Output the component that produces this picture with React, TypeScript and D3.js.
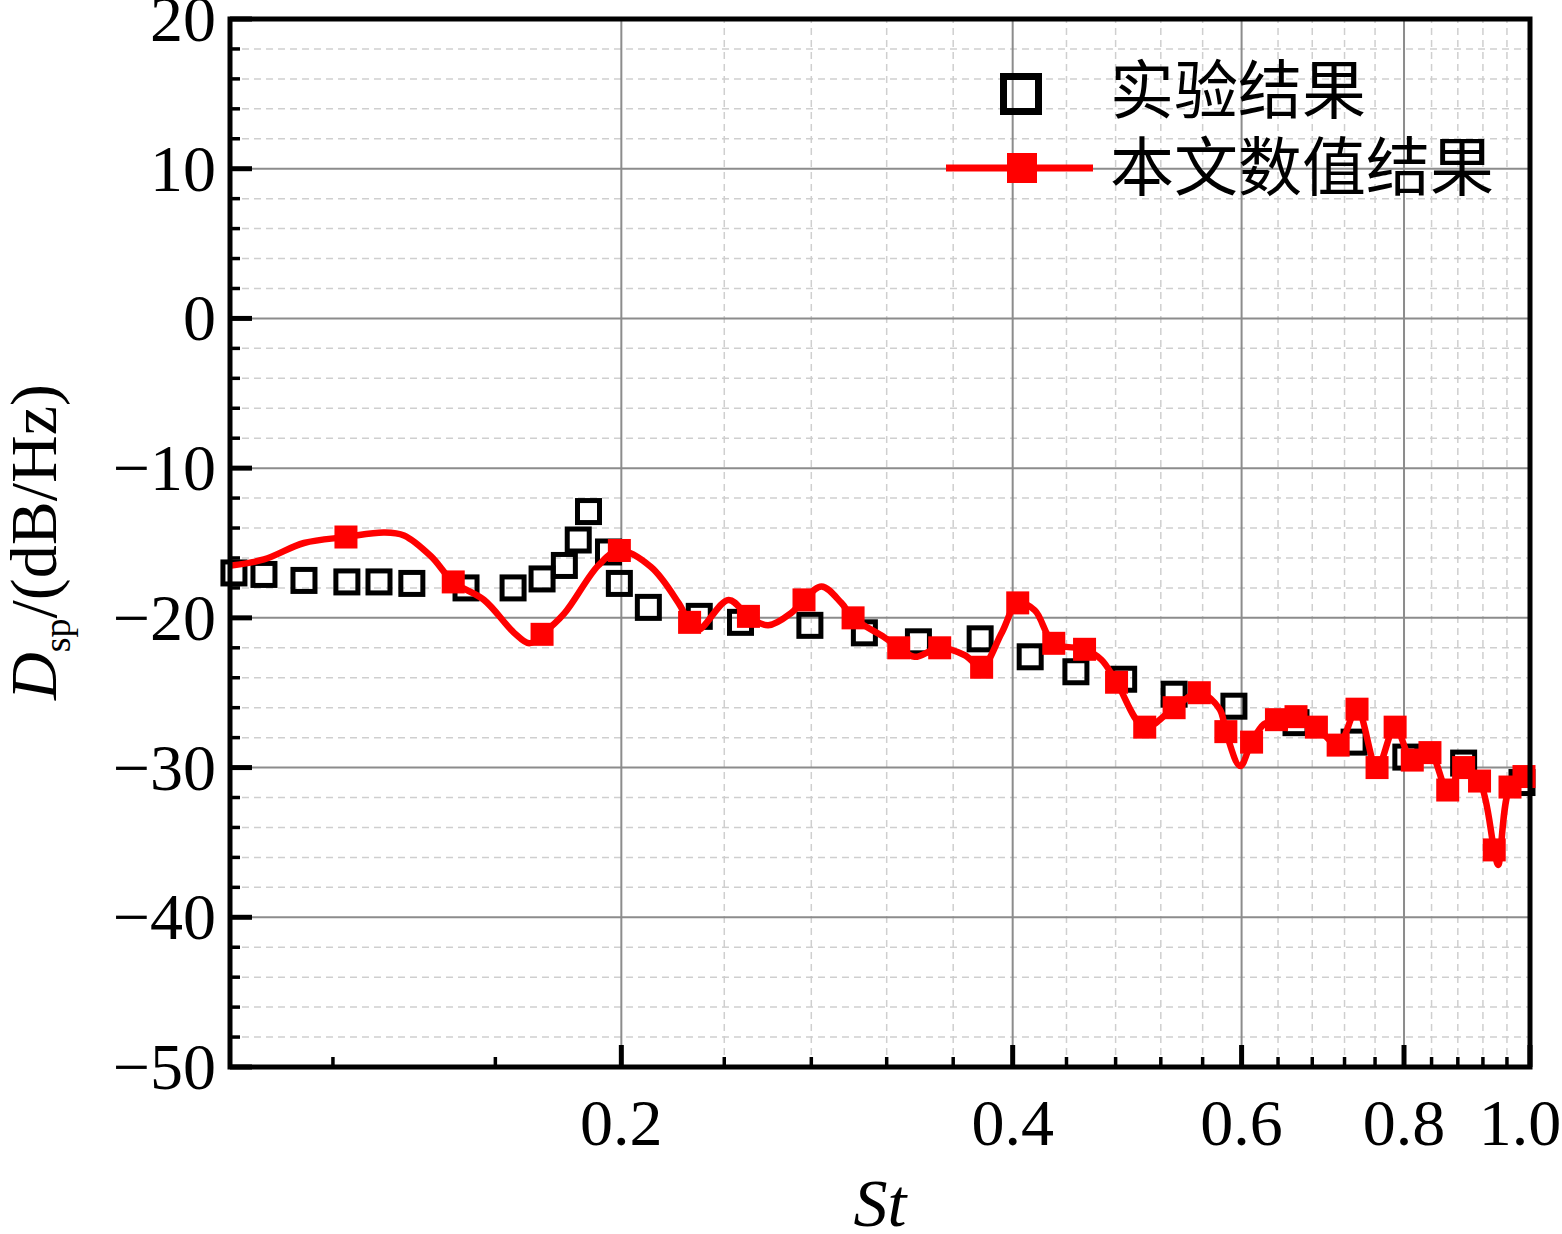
import React, { useEffect, useRef } from "react";
import * as d3 from "d3";

// 实验结果 (open squares)
const expSt = [
    0.1007, 0.1062, 0.114, 0.123, 0.1302, 0.138, 0.1519, 0.1651, 0.1738, 0.1808,
    0.1853, 0.1887, 0.1955, 0.1993, 0.2098, 0.2296, 0.247, 0.2793, 0.3076, 0.3385,
    0.3776, 0.4126, 0.4474, 0.4869, 0.5324, 0.5919, 0.6607, 0.7323, 0.8026, 0.8891,
    0.9859,
];
const expDsp = [
    -17.0, -17.1, -17.5, -17.6, -17.6, -17.7, -18.0, -18.0, -17.4, -16.5,
    -14.8, -12.9, -15.6, -17.7, -19.3, -19.9, -20.3, -20.5, -21.0, -21.6,
    -21.4, -22.6, -23.6, -24.1, -25.1, -25.9, -27.0, -28.3, -29.3, -29.7,
    -31.0,
];

// 本文数值结果: curve vertices
const numLineSt = [
    0.1002, 0.1062, 0.114, 0.1228, 0.1314, 0.1361, 0.1428, 0.1485, 0.1568, 0.1654,
    0.1699, 0.1738, 0.1808, 0.192, 0.1993, 0.2108, 0.2213, 0.2257, 0.2292, 0.2418,
    0.2505, 0.2594, 0.27, 0.2764, 0.2851, 0.2953, 0.3015, 0.3187, 0.3269, 0.3362,
    0.3515, 0.3675, 0.3786, 0.3923, 0.4036, 0.416, 0.4302, 0.4543, 0.4681, 0.4808,
    0.5054, 0.5324, 0.5567, 0.5772, 0.5835, 0.5985, 0.6107, 0.6243, 0.6382, 0.6607,
    0.685, 0.7119, 0.7361, 0.7627, 0.7875, 0.8118, 0.8376, 0.8644, 0.8891, 0.9145,
    0.9386, 0.9452, 0.9652, 0.9894, 1.0,
];
const numLineDsp = [
    -16.5, -16.1, -15.0, -14.6, -14.3, -14.5, -15.9, -17.6, -18.8, -21.0,
    -21.7, -21.1, -19.7, -16.5, -15.5, -16.6, -19.0, -20.3, -20.8, -18.8,
    -19.9, -20.5, -19.7, -18.8, -17.9, -19.0, -20.0, -21.3, -22.0, -22.6,
    -22.0, -22.5, -23.3, -21.0, -19.0, -19.5, -21.7, -22.1, -22.8, -24.3,
    -27.3, -26.0, -25.0, -26.1, -27.6, -29.9, -28.3, -27.1, -26.8, -26.6,
    -27.3, -28.5, -26.1, -30.0, -27.3, -29.5, -29.0, -31.5, -30.0, -30.9,
    -35.5, -36.5, -31.3, -30.6, -30.3,
];

// 本文数值结果: markers
const numMarkSt = [
    0.1228, 0.1485, 0.1738, 0.1993, 0.2257, 0.2505, 0.2764, 0.3015, 0.3269, 0.3515,
    0.3786, 0.4036, 0.4302, 0.4543, 0.4808, 0.5054, 0.5324, 0.5567, 0.5835, 0.6107,
    0.6382, 0.6607, 0.685, 0.7119, 0.7361, 0.7627, 0.7875, 0.8118, 0.8376, 0.8644,
    0.8891, 0.9145, 0.9386, 0.9652, 0.9894,
];
const numMarkDsp = [
    -14.6, -17.6, -21.1, -15.5, -20.3, -19.9, -18.8, -20.0, -22.0, -22.0,
    -23.3, -19.0, -21.7, -22.1, -24.3, -27.3, -26.0, -25.0, -27.6, -28.3,
    -26.8, -26.6, -27.3, -28.5, -26.1, -30.0, -27.3, -29.5, -29.0, -31.5,
    -30.0, -30.9, -35.5, -31.3, -30.6,
];

const xMajorTicks = [0.2, 0.4, 0.6, 0.8, 1.0];
const xMajorLabels = ["0.2", "0.4", "0.6", "0.8", "1.0"];
const xMinorTicks = [
    0.12, 0.16, 0.24, 0.28, 0.32, 0.36, 0.44, 0.48, 0.52, 0.56,
    0.64, 0.68, 0.72, 0.76, 0.84, 0.88, 0.92, 0.96,
];
const yMajorTicks = [20, 10, 0, -10, -20, -30, -40, -50];
const yMajorLabels = ["20", "10", "0", "\u221210", "\u221220", "\u221230", "\u221240", "\u221250"];
const yMinorTicks = d3.range(-48, 20, 2).filter((v) => v % 10 !== 0);
const legendLabels = ["实验结果", "本文数值结果"];

const W = 1562;
const H = 1234;
const margin = { top: 19, right: 32, bottom: 167, left: 230 };
const SERIF = "'Times New Roman', 'Liberation Serif', serif";
const CJK = "'Noto Sans CJK SC', sans-serif";
const RED = "#ff0000";

const App: React.FC = () => {
    const svgRef = useRef<SVGSVGElement | null>(null);

    useEffect(() => {
        if (!svgRef.current) return;
        const svg = d3.select(svgRef.current);
        svg.selectAll("*").remove();

        const x0 = margin.left;
        const x1 = W - margin.right;
        const y0 = H - margin.bottom;
        const y1 = margin.top;

        const x = d3.scaleLog().domain([0.1, 1.0]).range([x0, x1]);
        const y = d3.scaleLinear().domain([-50, 20]).range([y0, y1]);

        svg.append("rect").attr("width", W).attr("height", H).attr("fill", "#fff");

        // 网格
        const grid = svg.append("g");
        grid.selectAll(".ymin")
            .data(yMinorTicks)
            .join("line")
            .attr("x1", x0).attr("x2", x1)
            .attr("y1", (d) => y(d)).attr("y2", (d) => y(d))
            .attr("stroke", "#cfcfcf").attr("stroke-width", 1.5)
            .attr("stroke-dasharray", "7,5");
        grid.selectAll(".xmin")
            .data(xMinorTicks.filter((d) => d > 0.2))
            .join("line")
            .attr("x1", (d) => x(d)).attr("x2", (d) => x(d))
            .attr("y1", y0).attr("y2", y1)
            .attr("stroke", "#cfcfcf").attr("stroke-width", 1.5)
            .attr("stroke-dasharray", "7,5");
        grid.selectAll(".ymaj")
            .data(yMajorTicks.filter((d) => d > -50 && d < 20))
            .join("line")
            .attr("x1", x0).attr("x2", x1)
            .attr("y1", (d) => y(d)).attr("y2", (d) => y(d))
            .attr("stroke", "#8c8c8c").attr("stroke-width", 2);
        grid.selectAll(".xmaj")
            .data(xMajorTicks.filter((d) => d < 1.0))
            .join("line")
            .attr("x1", (d) => x(d)).attr("x2", (d) => x(d))
            .attr("y1", y0).attr("y2", y1)
            .attr("stroke", "#8c8c8c").attr("stroke-width", 2);

        // 刻度
        const ticks = svg.append("g").attr("stroke", "#000");
        ticks.selectAll(".ytm")
            .data(yMinorTicks)
            .join("line")
            .attr("x1", x0).attr("x2", x0 + 10)
            .attr("y1", (d) => y(d)).attr("y2", (d) => y(d))
            .attr("stroke-width", 3.5);
        ticks.selectAll(".ytM")
            .data(yMajorTicks)
            .join("line")
            .attr("x1", x0).attr("x2", x0 + 22)
            .attr("y1", (d) => y(d)).attr("y2", (d) => y(d))
            .attr("stroke-width", 5);
        ticks.selectAll(".xtm")
            .data(xMinorTicks)
            .join("line")
            .attr("x1", (d) => x(d)).attr("x2", (d) => x(d))
            .attr("y1", y0).attr("y2", y0 - 10)
            .attr("stroke-width", 3.5);
        ticks.selectAll(".xtM")
            .data(xMajorTicks)
            .join("line")
            .attr("x1", (d) => x(d)).attr("x2", (d) => x(d))
            .attr("y1", y0).attr("y2", y0 - 22)
            .attr("stroke-width", 5);

        // 实验结果
        const expData = expSt.map((s, i) => ({ s, v: expDsp[i] }));
        const sq = 22;
        svg.append("g")
            .selectAll("rect")
            .data(expData)
            .join("rect")
            .attr("x", (d) => x(d.s) - sq / 2)
            .attr("y", (d) => y(d.v) - sq / 2)
            .attr("width", sq).attr("height", sq)
            .attr("fill", "none").attr("stroke", "#000").attr("stroke-width", 5);

        // 本文数值结果
        const lineData = numLineSt.map((s, i) => ({ s, v: numLineDsp[i] }));
        const line = d3
            .line<{ s: number; v: number }>()
            .x((d) => x(d.s))
            .y((d) => y(d.v))
            .curve(d3.curveCatmullRom.alpha(0.5));
        svg.append("path")
            .datum(lineData)
            .attr("d", line)
            .attr("fill", "none").attr("stroke", RED).attr("stroke-width", 6.5)
            .attr("stroke-linejoin", "round");

        const markData = numMarkSt.map((s, i) => ({ s, v: numMarkDsp[i] }));
        const mk = 23;
        svg.append("g")
            .selectAll("rect")
            .data(markData)
            .join("rect")
            .attr("x", (d) => x(d.s) - mk / 2)
            .attr("y", (d) => y(d.v) - mk / 2)
            .attr("width", mk).attr("height", mk)
            .attr("fill", RED);

        // 边框
        svg.append("rect")
            .attr("x", x0).attr("y", y1)
            .attr("width", x1 - x0).attr("height", y0 - y1)
            .attr("fill", "none").attr("stroke", "#000").attr("stroke-width", 5);

        // 刻度标签
        svg.append("g")
            .selectAll("text")
            .data(yMajorTicks)
            .join("text")
            .attr("x", x0 - 14)
            .attr("y", (d) => y(d) + 22)
            .attr("text-anchor", "end")
            .attr("font-family", SERIF).attr("font-size", 66)
            .text((_d, i) => yMajorLabels[i]);
        svg.append("g")
            .selectAll("text")
            .data(xMajorTicks)
            .join("text")
            // the last label is pulled in so it stays inside the page
            .attr("x", (d) => Math.min(x(d), W - 42))
            .attr("y", y0 + 78)
            .attr("text-anchor", "middle")
            .attr("font-family", SERIF).attr("font-size", 66)
            .text((_d, i) => xMajorLabels[i]);

        // 坐标轴标题
        svg.append("text")
            .attr("x", (x0 + x1) / 2).attr("y", 1226)
            .attr("text-anchor", "middle")
            .attr("font-family", SERIF).attr("font-size", 68)
            .attr("font-style", "italic")
            .text("St");

        const yt = svg.append("text")
            .attr("transform", "translate(56,542) rotate(-90)")
            .attr("text-anchor", "middle")
            .attr("font-family", SERIF).attr("font-size", 66);
        yt.append("tspan").attr("font-style", "italic").text("D");
        yt.append("tspan").attr("font-size", 38).attr("dy", 14).text("sp");
        yt.append("tspan").attr("dy", -14).text("/(dB/Hz)");

        // 图例
        const lg = svg.append("g");
        lg.append("rect")
            .attr("x", 1021 - 17.5).attr("y", 94 - 17.5)
            .attr("width", 35).attr("height", 35)
            .attr("fill", "none").attr("stroke", "#000").attr("stroke-width", 7);
        lg.append("line")
            .attr("x1", 946).attr("x2", 1093)
            .attr("y1", 168).attr("y2", 168)
            .attr("stroke", RED).attr("stroke-width", 7);
        lg.append("rect")
            .attr("x", 1022 - 15).attr("y", 168 - 15)
            .attr("width", 30).attr("height", 30)
            .attr("fill", RED);
        lg.selectAll("text")
            .data(legendLabels)
            .join("text")
            .attr("x", 1110)
            .attr("y", (_d, i) => 113 + i * 77)
            .attr("font-family", CJK).attr("font-size", 64)
            .text((d) => d);
    }, []);

    return (
        <svg
            ref={svgRef}
            width={W}
            height={H}
            style={{ position: "absolute", left: 0, top: 0, display: "block" }}
        ></svg>
    );
};

export default App;
